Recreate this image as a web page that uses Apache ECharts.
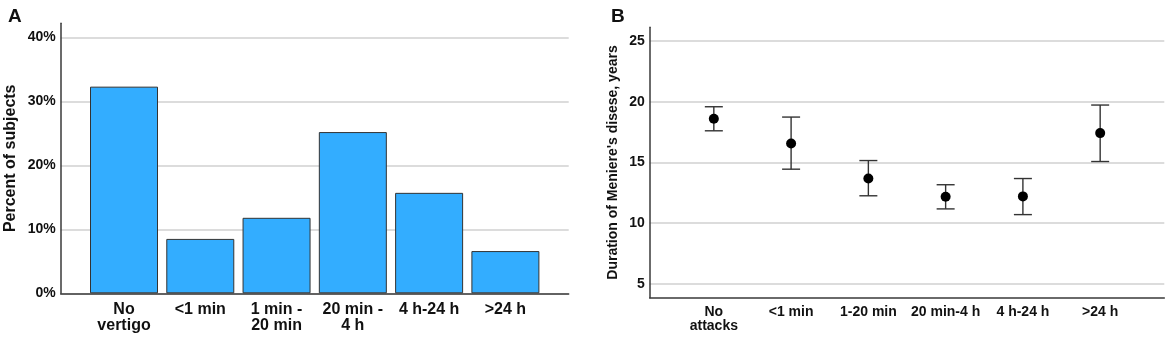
<!DOCTYPE html>
<html>
<head>
<meta charset="utf-8">
<script src="https://cdn.jsdelivr.net/npm/echarts@6/dist/echarts.min.js"></script>
<style>
  html, body { margin: 0; padding: 0; background: #fff; }
  #chart { width: 1169px; height: 338px; }
</style>
</head>
<body>
<div id="chart"></div>
<script>
// ── Data ────────────────────────────────────────────────────────────────
// Panel A: percent of subjects by vertigo attack duration
const catsA = ['No\nvertigo', '<1 min', '1 min -\n20 min', '20 min -\n4 h', '4 h-24 h', '>24 h'];
const pctA = [32.3, 8.5, 11.8, 25.2, 15.7, 6.6];
const ticksA = [0, 10, 20, 30, 40];

// Panel B: duration of Meniere's disease (mean with CI) by attack duration
const catsB = ['No\nattacks', '<1 min', '1-20 min', '20 min-4 h', '4 h-24 h', '>24 h'];
const meanB = [18.6, 16.57, 13.68, 12.18, 12.21, 17.42];
const lowB  = [17.61, 14.45, 12.26, 11.18, 10.71, 15.08];
const highB = [19.59, 18.74, 15.16, 13.17, 13.68, 19.73];
const ticksB = [5, 10, 15, 20, 25];

// ── Style ───────────────────────────────────────────────────────────────
const font = "'Liberation Sans', Arial, sans-serif";
const ink = '#111';
const axisInk = '#3a3a3a';
const gridInk = '#d0d0d0';
const barFill = '#33adff';
const idx = [0, 1, 2, 3, 4, 5];

const chart = echarts.init(document.getElementById('chart'), null, { renderer: 'canvas' });

function xAxisFor(gridIndex, cats, size, lineH, margin) {
  return {
    type: 'value', gridIndex, min: -0.83, max: 5.83,
    axisLine: { show: true, onZero: false, lineStyle: { color: axisInk, width: 1.5 } },
    axisTick: { show: false, customValues: idx },
    splitLine: { show: false },
    axisLabel: {
      customValues: idx, margin,
      formatter: (v) => cats[Math.round(v)],
      fontFamily: font, fontWeight: 'bold', fontSize: size, lineHeight: lineH, color: ink,
    },
  };
}

function yAxisFor(gridIndex, min, max, ticks, fmt, name, nameSize, nameGap) {
  return {
    type: 'value', gridIndex, min, max,
    name, nameLocation: 'middle', nameRotate: 90, nameGap,
    nameTextStyle: { fontFamily: font, fontWeight: 'bold', fontSize: nameSize, color: ink },
    axisLine: { show: true, onZero: false, lineStyle: { color: axisInk, width: 1.5 } },
    axisTick: { show: false, customValues: ticks },
    splitLine: { show: true, lineStyle: { color: gridInk, width: 1.5 } },
    axisLabel: {
      customValues: ticks, margin: 5, formatter: fmt,
      fontFamily: font, fontWeight: 'bold', fontSize: 14, color: ink,
    },
  };
}

chart.setOption({
  animation: false,
  backgroundColor: '#fff',
  title: [
    { text: 'A', left: 3, top: 2, textStyle: { fontFamily: font, fontWeight: 'bold', fontSize: 19, color: ink } },
    { text: 'B', left: 606, top: 2, textStyle: { fontFamily: font, fontWeight: 'bold', fontSize: 19, color: ink } },
  ],
  grid: [
    { left: 60.7, right: 600.3, top: 23.3, bottom: 44.7 },
    { left: 649.7, right: 4.7, top: 27.3, bottom: 40.3 },
  ],
  xAxis: [
    xAxisFor(0, catsA, 16, 16, 8),
    xAxisFor(1, catsB, 14, 14, 7),
  ],
  yAxis: [
    yAxisFor(0, 0, 42.2, ticksA, (v) => v + '%', 'Percent of subjects', 16, 42),
    yAxisFor(1, 3.87, 26.13, ticksB, (v) => String(v), "Duration of Meniere's disese, years", 14, 30),
  ],
  series: [
    {
      type: 'bar', xAxisIndex: 0, yAxisIndex: 0,
      data: pctA.map((v, i) => [i, v]),
      barWidth: 68,
      itemStyle: { color: barFill, borderColor: '#333', borderWidth: 1 },
    },
    {
      type: 'custom', xAxisIndex: 1, yAxisIndex: 1,
      data: idx.map((i) => [i, lowB[i], highB[i]]),
      renderItem: (params, api) => {
        const lo = api.coord([api.value(0), api.value(1)]);
        const hi = api.coord([api.value(0), api.value(2)]);
        const half = 9;
        const style = { stroke: '#333', lineWidth: 1.4 };
        return {
          type: 'group',
          children: [
            { type: 'line', shape: { x1: hi[0], y1: hi[1], x2: lo[0], y2: lo[1] }, style },
            { type: 'line', shape: { x1: hi[0] - half, y1: hi[1], x2: hi[0] + half, y2: hi[1] }, style },
            { type: 'line', shape: { x1: lo[0] - half, y1: lo[1], x2: lo[0] + half, y2: lo[1] }, style },
          ],
        };
      },
      z: 2,
    },
    {
      type: 'scatter', xAxisIndex: 1, yAxisIndex: 1,
      data: meanB.map((v, i) => [i, v]),
      symbol: 'circle', symbolSize: 10,
      itemStyle: { color: '#000', opacity: 1 },
      z: 3,
    },
  ],
});
</script>
</body>
</html>
